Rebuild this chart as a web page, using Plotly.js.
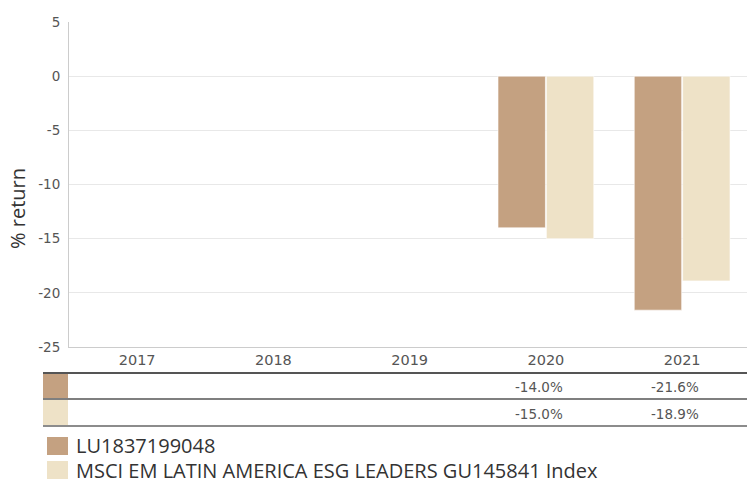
<!DOCTYPE html>
<html>
<head>
<meta charset="utf-8">
<script src="https://cdn.plot.ly/plotly-3.0.1.min.js"></script>
<style>html,body{margin:0;padding:0;background:#fff;}#chart{width:747px;height:483px;}</style>
</head>
<body>
<div id="chart"></div>
<script>
const categories = ["2017", "2018", "2019", "2020", "2021"];
const seriesNames = ["LU1837199048", "MSCI EM LATIN AMERICA ESG LEADERS GU145841 Index"];
const fundValues = [null, null, null, -14.0, -21.6];
const indexValues = [null, null, null, -15.0, -18.9];
const yTicks = [5, 0, -5, -10, -15, -20, -25];
const yTitle = "% return";
const colors = ["#C4A181", "#EEE2C7"];

const series = [fundValues, indexValues];
const traces = series.map((vals, i) => ({
  type: "bar",
  name: seriesNames[i],
  x: categories,
  y: vals,
  marker: {color: colors[i], line: {color: "rgba(255,255,255,0.6)", width: 1}},
  hoverinfo: "none",
  showlegend: false
}));

const shapes = [];
const annotations = [];
function paperY(pix) { return (347 - pix) / (347 - 22); }
function paperX(pix) { return (pix - 69) / (747 - 69); }
const lineYs = [373, 399, 426];
const lineCols = ["#555555", "#555555", "#666666"];
const lineW = [2, 1.5, 1.5];
lineYs.forEach((ly, k) => {
  shapes.push({type: "line", xref: "paper", yref: "paper", x0: paperX(43), x1: paperX(747), y0: paperY(ly), y1: paperY(ly), line: {color: lineCols[k], width: lineW[k]}});
});
const rowTop = [374, 400];
const rowBot = [398, 425];
const tickFont = "DejaVu Sans, Liberation Sans, Arial, sans-serif";
series.forEach((vals, i) => {
  shapes.push({type: "rect", xref: "paper", yref: "paper", x0: paperX(43), x1: paperX(68), y0: paperY(rowBot[i]), y1: paperY(rowTop[i]), line: {width: 0}, fillcolor: colors[i]});
  vals.forEach((v, j) => {
    if (v === null) return;
    annotations.push({xref: "x", yref: "paper", x: j, y: paperY((rowTop[i] + rowBot[i]) / 2 + 1), text: v.toFixed(1) + "%", showarrow: false, xanchor: "right", xshift: 19, yanchor: "middle", font: {family: tickFont, size: 13.5, color: "#555"}});
  });
});
const legY = [446, 470];
seriesNames.forEach((n, i) => {
  shapes.push({type: "rect", xref: "paper", yref: "paper", x0: paperX(47), x1: paperX(68), y0: paperY(legY[i] + 9), y1: paperY(legY[i] - 9), line: {width: 0}, fillcolor: colors[i]});
  annotations.push({xref: "paper", yref: "paper", x: paperX(74), y: paperY(legY[i]), text: n, showarrow: false, xanchor: "left", yanchor: "middle", font: {family: "Open Sans, sans-serif", size: 20, color: "#333"}});
});
annotations.push({xref: "paper", yref: "paper", x: paperX(17), y: paperY(209), text: yTitle, textangle: -90, showarrow: false, xanchor: "center", yanchor: "middle", font: {family: "Open Sans, sans-serif", size: 20, color: "#333"}});

const layout = {
  width: 747, height: 483,
  margin: {l: 69, r: 0, t: 22, b: 136, pad: 0},
  paper_bgcolor: "#fff", plot_bgcolor: "#fff",
  barmode: "group", bargap: 0.29, bargroupgap: 0.02,
  showlegend: false,
  xaxis: {type: "category", range: [-0.5, 4.476], showgrid: false, showline: true, linecolor: "#cccccc", linewidth: 1, ticks: "", tickfont: {family: tickFont, size: 14.5, color: "#555"}, fixedrange: true},
  yaxis: {range: [-25, 5], tickvals: yTicks, ticktext: yTicks.map(String), showgrid: true, gridcolor: "#e8e8e8", gridwidth: 1, zeroline: false, showline: true, linecolor: "#cccccc", linewidth: 1, ticks: "outside", ticklen: 5, tickcolor: "rgba(0,0,0,0)", tickfont: {family: tickFont, size: 13.5, color: "#555"}, fixedrange: true},
  shapes: shapes,
  annotations: annotations
};
Plotly.newPlot("chart", traces, layout, {displayModeBar: false, staticPlot: true});
</script>
</body>
</html>
